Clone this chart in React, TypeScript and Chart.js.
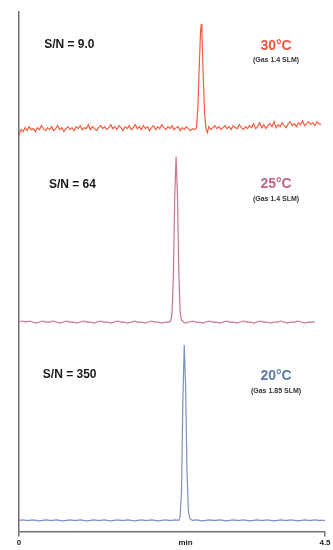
import React, { useEffect, useRef } from "react";
import { Chart, registerables } from "chart.js";

Chart.register(...registerables);

// Retention time (min) / detector signal pairs, each trace relative to its own baseline
const trace30C: [number, number][] = [
  [0.0, -3], [0.03, 3], [0.06, 1], [0.09, 5], [0.12, 2], [0.15, 6], [0.18, 3], [0.21, 4], [0.24, 1], [0.27, 5],
  [0.3, 3], [0.33, 7], [0.36, 4], [0.39, 2], [0.42, 5], [0.45, 3], [0.48, 6], [0.51, 2], [0.54, 4], [0.57, 7],
  [0.6, 3], [0.63, 5], [0.66, 1], [0.69, 4], [0.72, 6], [0.75, 3], [0.78, 5], [0.81, 2], [0.84, 6], [0.87, 4],
  [0.9, 7], [0.93, 3], [0.96, 5], [0.99, 4], [1.02, 8], [1.05, 3], [1.08, 6], [1.11, 4], [1.14, 2], [1.17, 5],
  [1.2, 7], [1.23, 4], [1.26, 6], [1.29, 3], [1.32, 5], [1.35, 8], [1.38, 4], [1.41, 6], [1.44, 3], [1.47, 7],
  [1.5, 5], [1.53, 2], [1.56, 6], [1.59, 4], [1.62, 7], [1.65, 3], [1.68, 5], [1.71, 8], [1.74, 4], [1.77, 6],
  [1.8, 3], [1.83, 7], [1.86, 4], [1.89, 6], [1.92, 2], [1.95, 5], [1.98, 7], [2.01, 3], [2.04, 6], [2.07, 4],
  [2.1, 8], [2.13, 5], [2.16, 3], [2.19, 6], [2.22, 4], [2.25, 7], [2.28, 3], [2.31, 5], [2.34, 6], [2.37, 2],
  [2.4, 5], [2.43, 3], [2.46, 6], [2.49, 4], [2.52, 2], [2.55, 4], [2.58, 3],
  [2.61, 5], [2.63, 25], [2.65, 65], [2.67, 102], [2.68, 109], [2.69, 100], [2.71, 55], [2.73, 18], [2.75, 4], [2.77, 0],
  [2.79, 6], [2.82, 3], [2.85, 5], [2.88, 7], [2.91, 4], [2.94, 6], [2.97, 3], [3.0, 5], [3.03, 7], [3.06, 4],
  [3.09, 6], [3.12, 3], [3.15, 7], [3.18, 5], [3.21, 4], [3.24, 8], [3.27, 5], [3.3, 3], [3.33, 6], [3.36, 4],
  [3.39, 7], [3.42, 5], [3.45, 9], [3.48, 4], [3.51, 6], [3.54, 10], [3.57, 5], [3.6, 8], [3.63, 4], [3.66, 7],
  [3.69, 9], [3.72, 6], [3.75, 11], [3.78, 5], [3.81, 8], [3.84, 6], [3.87, 10], [3.9, 7], [3.93, 5], [3.96, 9],
  [3.99, 11], [4.02, 7], [4.05, 9], [4.08, 6], [4.11, 10], [4.14, 8], [4.17, 12], [4.2, 7], [4.23, 9], [4.26, 11],
  [4.29, 8], [4.32, 10], [4.35, 7], [4.38, 11], [4.41, 9], [4.44, 8],
];

const trace25C: [number, number][] = [
  [0.0, 0], [0.05, 1], [0.1, 0], [0.15, 1], [0.2, 0], [0.25, -1], [0.3, 0], [0.35, 1], [0.4, 0], [0.45, 0],
  [0.5, 1], [0.55, 0], [0.6, -1], [0.65, 0], [0.7, 1], [0.75, 0], [0.8, 0], [0.85, -1], [0.9, 0], [0.95, 1],
  [1.0, 0], [1.05, 0], [1.1, -1], [1.15, 0], [1.2, 1], [1.25, 0], [1.3, 0], [1.35, -1], [1.4, 0], [1.45, 1],
  [1.5, 0], [1.55, 0], [1.6, -1], [1.65, 0], [1.7, 1], [1.75, 0], [1.8, 0], [1.85, -1], [1.9, 0], [1.95, 1],
  [2.0, 0], [2.05, 0], [2.1, -1], [2.15, 0], [2.2, 0],
  [2.23, 1], [2.25, 8], [2.27, 45], [2.29, 125], [2.31, 166], [2.33, 128], [2.35, 50], [2.37, 10], [2.39, 2],
  [2.42, 0], [2.45, -1], [2.5, 0], [2.55, 1], [2.6, 0], [2.65, 0], [2.7, -1], [2.75, 0], [2.8, 1], [2.85, 0],
  [2.9, 0], [2.95, -1], [3.0, 0], [3.05, 1], [3.1, 0], [3.15, 0], [3.2, -1], [3.25, 0], [3.3, 1], [3.35, 0],
  [3.4, 0], [3.45, -1], [3.5, 0], [3.55, 1], [3.6, 0], [3.65, 0], [3.7, -1], [3.75, 0], [3.8, 0], [3.85, 1],
  [3.9, 0], [3.95, -1], [4.0, 0], [4.05, 0], [4.1, 1], [4.15, 0], [4.2, -1], [4.25, 0], [4.3, 0], [4.35, 0],
];

const trace20C: [number, number][] = [
  [0.0, 0], [0.05, 0.5], [0.1, 0], [0.15, 0], [0.2, 0.5], [0.25, 0], [0.3, -0.5], [0.35, 0], [0.4, 0.5], [0.45, 0],
  [0.5, 0], [0.55, 0.5], [0.6, 0], [0.65, -0.5], [0.7, 0], [0.75, 0.5], [0.8, 0], [0.85, 0], [0.9, 0.5], [0.95, 0],
  [1.0, -0.5], [1.05, 0], [1.1, 0.5], [1.15, 0], [1.2, 0], [1.25, 0.5], [1.3, 0], [1.35, -0.5], [1.4, 0], [1.45, 0.5],
  [1.5, 0], [1.55, 0], [1.6, 0.5], [1.65, 0], [1.7, -0.5], [1.75, 0], [1.8, 0.5], [1.85, 0], [1.9, 0], [1.95, 0.5],
  [2.0, 0], [2.05, -0.5], [2.1, 0], [2.15, 0.5], [2.2, 0], [2.25, 0], [2.3, 0.5],
  [2.35, 0], [2.37, 4], [2.39, 30], [2.41, 120], [2.43, 176], [2.45, 135], [2.47, 50], [2.49, 10], [2.51, 2],
  [2.55, 0], [2.6, 0.5], [2.65, 0], [2.7, -0.5], [2.75, 0], [2.8, 0.5], [2.85, 0], [2.9, 0], [2.95, 0.5], [3.0, 0],
  [3.05, -0.5], [3.1, 0], [3.15, 0.5], [3.2, 0], [3.25, 0], [3.3, 0.5], [3.35, 0], [3.4, -0.5], [3.45, 0], [3.5, 0.5],
  [3.55, 0], [3.6, 0], [3.65, 0.5], [3.7, 0], [3.75, -0.5], [3.8, 0], [3.85, 0.5], [3.9, 0], [3.95, 0], [4.0, 0.5],
  [4.05, 0], [4.1, -0.5], [4.15, 0], [4.2, 0.5], [4.25, 0], [4.3, 0], [4.35, 0.5], [4.4, 0], [4.45, 0], [4.5, 0],
];

// Vertical offsets used to stack the three chromatograms
const traceOffsets = [400, 210, 11];
const traceNames = ["30°C", "25°C", "20°C"];
const traceColors = ["#f0603f", "#c9728e", "#7c90bf"];

// x-axis ticks
const tickValues = [0, 2.45, 4.5];
const tickLabels = ["0", "min", "4.5"];

// Annotation texts
const snLabels = ["S/N = 9.0", "S/N = 64", "S/N = 350"];
const tempLabels = ["30°C", "25°C", "20°C"];
const gasLabels = ["(Gas 1.4 SLM)", "(Gas 1.4 SLM)", "(Gas 1.85 SLM)"];
const labelColors = ["#ef553a", "#c2648a", "#5d7ba8"];

const FONT = '"Liberation Sans", Arial, Helvetica, sans-serif';

const annotationPlugin = {
  id: "chromaLabels",
  afterDatasetsDraw(chart: any) {
    const { ctx, scales } = chart;
    const x = scales.x;
    const y = scales.y;
    const snPos = [[0.37, 488], [0.44, 348], [0.35, 157]];
    const tempPos = [[3.78, 487], [3.78, 348], [3.78, 156]];
    const gasPos = [[3.78, 473], [3.78, 333], [3.78, 141]];
    ctx.save();
    ctx.textBaseline = "middle";
    for (let i = 0; i < 3; i++) {
      ctx.fillStyle = "#1a1a1a";
      ctx.font = `bold 12px ${FONT}`;
      ctx.textAlign = "left";
      ctx.fillText(snLabels[i], x.getPixelForValue(snPos[i][0]), y.getPixelForValue(snPos[i][1]));
      ctx.fillStyle = labelColors[i];
      ctx.font = `bold 14px ${FONT}`;
      ctx.textAlign = "center";
      ctx.fillText(tempLabels[i], x.getPixelForValue(tempPos[i][0]), y.getPixelForValue(tempPos[i][1]));
      ctx.fillStyle = "#333333";
      ctx.font = `bold 7px ${FONT}`;
      ctx.fillText(gasLabels[i], x.getPixelForValue(gasPos[i][0]), y.getPixelForValue(gasPos[i][1]));
    }
    ctx.restore();
  },
};

export default function App() {
  const canvasRef = useRef<HTMLCanvasElement | null>(null);

  useEffect(() => {
    if (!canvasRef.current) return;
    const traces = [trace30C, trace25C, trace20C];
    const chart = new Chart(canvasRef.current, {
      type: "line",
      data: {
        datasets: traces.map((tr, i) => ({
          label: traceNames[i],
          data: tr.map(([t, v]) => ({ x: t, y: v + traceOffsets[i] })),
          borderColor: traceColors[i],
          borderWidth: 1.2,
          pointRadius: 0,
          tension: 0,
          fill: false,
        })),
      },
      options: {
        animation: false,
        responsive: true,
        maintainAspectRatio: false,
        layout: { padding: { left: 19, right: 8, top: 12, bottom: 0 } },
        plugins: { legend: { display: false }, tooltip: { enabled: false } },
        scales: {
          x: {
            type: "linear",
            min: 0,
            max: 4.5,
            afterBuildTicks: (axis: any) => {
              axis.ticks = tickValues.map((v) => ({ value: v }));
            },
            ticks: {
              autoSkip: false,
              maxRotation: 0,
              padding: 2,
              color: "#222222",
              font: { family: FONT, size: 8, weight: "bold" },
              callback: (value: any) => {
                const idx = tickValues.indexOf(Number(value));
                return idx >= 0 ? tickLabels[idx] : "";
              },
            },
            grid: {
              display: true,
              drawOnChartArea: false,
              drawTicks: true,
              tickLength: 5,
              lineWidth: 1.5,
              color: (c: any) => (c.index === 1 ? "rgba(0,0,0,0)" : "#6e6e6e"),
            },
            border: { display: true, color: "#6e6e6e", width: 1.5 },
          },
          y: {
            type: "linear",
            min: 0,
            max: 521,
            ticks: { display: false },
            grid: { display: false, drawTicks: false },
            border: { display: true, color: "#6e6e6e", width: 1.5 },
          },
        },
      },
      plugins: [annotationPlugin],
    });
    return () => chart.destroy();
  }, []);

  return (
    <div style={{ position: "fixed", left: 0, top: 0, width: 333, height: 550, background: "#ffffff" }}>
      <canvas ref={canvasRef} />
    </div>
  );
}
